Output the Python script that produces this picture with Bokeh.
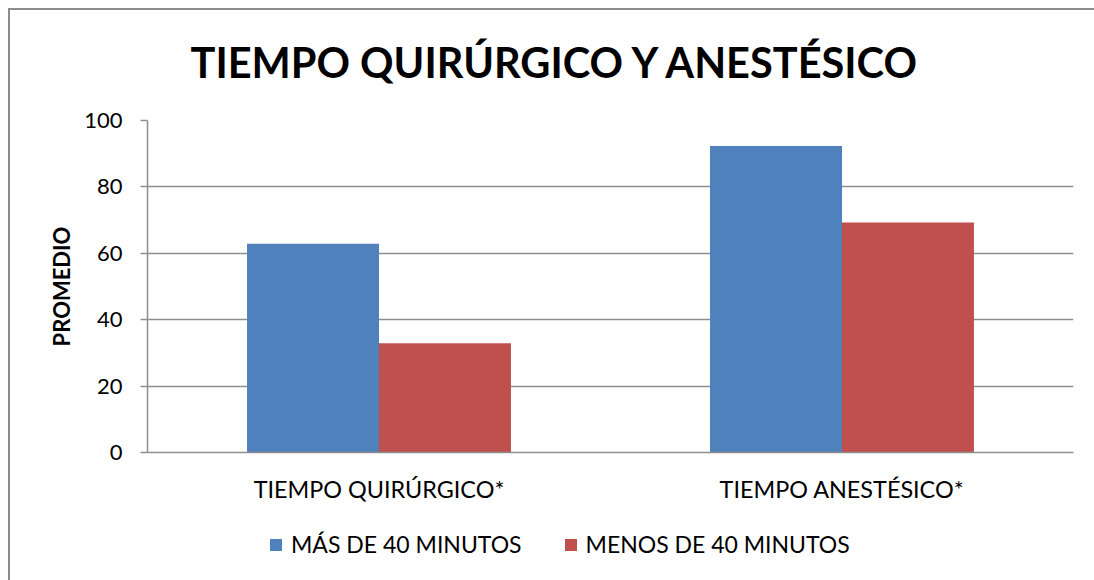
from bokeh.plotting import figure
from bokeh.layouts import column
from bokeh.models import FactorRange, Legend, LegendItem, Title, FixedTicker, ColumnDataSource
from bokeh.transform import dodge
from bokeh.embed import file_html
from bokeh.resources import INLINE

categories = ["TIEMPO QUIRÚRGICO*", "TIEMPO ANESTÉSICO*"]
series_names = ["MÁS DE 40 MINUTOS", "MENOS DE 40 MINUTOS"]
mas_40 = [62.9, 92.3]
menos_40 = [32.9, 69.3]
y_ticks = [0, 20, 40, 60, 80, 100]

FONT = "Lato"
GRID = "#8e8e8e"
BLUE = "#4F81BD"
RED = "#C0504D"

src = ColumnDataSource(dict(cat=categories, mas=mas_40, menos=menos_40))

p = figure(width=1094, height=510, output_backend="svg", toolbar_location=None,
           x_range=FactorRange(factors=categories, range_padding=0),
           y_range=(0, 100), min_border_left=147, min_border_right=21,
           min_border_top=120, min_border_bottom=58,
           background_fill_color="white", border_fill_alpha=0)
p.outline_line_color = None

t = Title(text="TIEMPO QUIRÚRGICO Y ANESTÉSICO", align="left", offset=43,
          text_font=FONT, text_font_size="41.5px", text_font_style="bold",
          text_color="black", standoff=67)
p.add_layout(t, "above")

bw = 0.285
r1 = p.vbar(x=dodge("cat", -bw / 2, range=p.x_range), top="mas", width=bw, source=src,
            fill_color=BLUE, line_color=None)
r2 = p.vbar(x=dodge("cat", bw / 2, range=p.x_range), top="menos", width=bw, source=src,
            fill_color=RED, line_color=None)

p.xgrid.grid_line_color = None
p.ygrid.grid_line_color = GRID
p.ygrid.grid_line_width = 1.5
p.yaxis.ticker = FixedTicker(ticks=y_ticks)
p.yaxis.axis_line_color = GRID
p.yaxis.axis_line_width = 1.5
p.yaxis.major_tick_line_color = GRID
p.yaxis.major_tick_line_width = 1.5
p.yaxis.major_tick_out = 7
p.yaxis.major_tick_in = 0
p.yaxis.minor_tick_line_color = None
p.yaxis.major_label_text_font = FONT
p.yaxis.major_label_text_font_size = "22px"
p.yaxis.major_label_text_color = "black"
p.yaxis.major_label_standoff = 18
p.yaxis.axis_label = "PROMEDIO"
p.yaxis.axis_label_text_font = FONT
p.yaxis.axis_label_text_font_size = "22px"
p.yaxis.axis_label_text_font_style = "bold"
p.yaxis.axis_label_text_color = "black"
p.yaxis.axis_label_standoff = 6

p.xaxis.axis_line_color = GRID
p.xaxis.axis_line_width = 1.5
p.xaxis.major_tick_line_color = None
p.xaxis.minor_tick_line_color = None
p.xaxis.major_label_text_font = FONT
p.xaxis.major_label_text_font_size = "23.4px"
p.xaxis.major_label_text_color = "black"
p.xaxis.major_label_standoff = 16

# legend strip (separate canvas so the legend is not clipped by the plot frame;
# the column aligns its frame with the main plot's frame)
lg = figure(width=1094, height=70, output_backend="svg", toolbar_location=None,
            x_range=(0, 1), y_range=(0, 1), x_axis_location=None, y_axis_location=None,
            min_border_left=147, min_border_right=21, min_border_top=0, min_border_bottom=0,
            background_fill_alpha=0, border_fill_alpha=0)
lg.grid.visible = False
lg.outline_line_color = None
# zero-height proxy bars, used only to give the legend its swatches
lr1 = lg.vbar(x=[0], top=[0], width=0, fill_color=BLUE, line_color=None)
lr2 = lg.vbar(x=[0], top=[0], width=0, fill_color=RED, line_color=None)
legend = Legend(items=[LegendItem(label=series_names[0], renderers=[lr1]),
                       LegendItem(label=series_names[1], renderers=[lr2])],
                orientation="horizontal", location=(121, 22),
                label_text_font=FONT, label_text_font_size="23px", label_text_color="black",
                glyph_width=15, glyph_height=15, label_standoff=8, spacing=41,
                border_line_color=None, background_fill_alpha=0, padding=0, margin=0)
lg.add_layout(legend, "center")

frame_bg = ("linear-gradient(#8c8c8c,#8c8c8c) 8px 8px / 2px 100% no-repeat, "
            "linear-gradient(#8c8c8c,#8c8c8c) 8px 8px / 100% 2px no-repeat, white")
layout = column(p, lg, spacing=0, styles={"background": frame_bg})

open("out.html", "w").write(file_html(layout, INLINE))
